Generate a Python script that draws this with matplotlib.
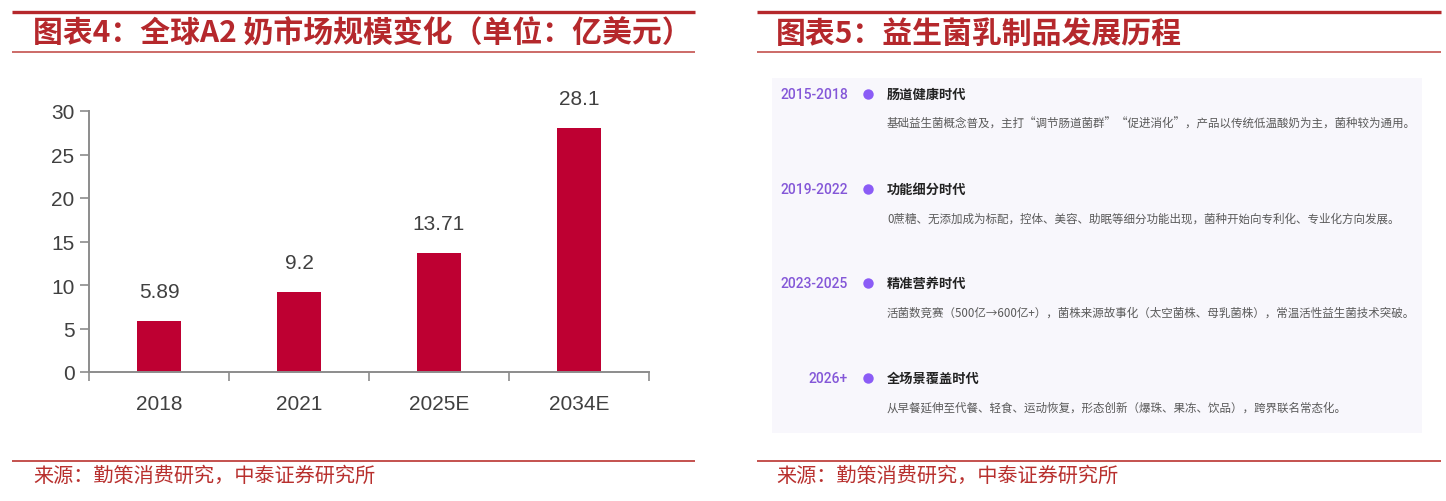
import matplotlib
matplotlib.use("Agg")
import matplotlib.pyplot as plt
from matplotlib.lines import Line2D
from matplotlib.patches import Rectangle

plt.rcParams['font.family'] = ['Noto Sans CJK SC', 'DejaVu Sans']

W, H = 1446, 502

# bar chart data
years = ["2018", "2021", "2025E", "2034E"]
market_size = [5.89, 9.2, 13.71, 28.1]
value_labels = ["5.89", "9.2", "13.71", "28.1"]
y_ticks = [0, 5, 10, 15, 20, 25, 30]

# timeline data
periods = ["2015-2018", "2019-2022", "2023-2025", "2026+"]
stages = ["肠道健康时代", "功能细分时代", "精准营养时代", "全场景覆盖时代"]
details = [
    "基础益生菌概念普及，主打“调节肠道菌群”“促进消化”，产品以传统低温酸奶为主，菌种较为通用。",
    "0蔗糖、无添加成为标配，控体、美容、助眠等细分功能出现，菌种开始向专利化、专业化方向发展。",
    "活菌数竞赛（500亿→600亿+），菌株来源故事化（太空菌株、母乳菌株），常温活性益生菌技术突破。",
    "从早餐延伸至代餐、轻食、运动恢复，形态创新（爆珠、果冻、饮品），跨界联名常态化。",
]

titles = ["图表4：全球A2 奶市场规模变化（单位：亿美元）", "图表5：益生菌乳制品发展历程"]
source = "来源：勤策消费研究，中泰证券研究所"

RED = "#B5282C"
LINE_RED = "#C4514E"
BAR = "#BE0032"
PURPLE = "#8457D8"


def fx(x):
    return x / W


def fy(y):
    return 1 - y / H


def hline(fig, x0, x1, y, lw, color):
    fig.add_artist(Line2D([fx(x0), fx(x1)], [fy(y), fy(y)], lw=lw, color=color,
                          transform=fig.transFigure, solid_capstyle="butt"))


fig = plt.figure(figsize=(W / 100, H / 100), dpi=100)

# panel frames: heading lines, titles, source
panels = [(12, 695, 33), (757, 1441, 776)]
for (x0, x1, tx), title in zip(panels, titles):
    hline(fig, x0, x1, 12.5, 2.4, RED)
    hline(fig, x0, x1, 52.5, 1.2, LINE_RED)
    hline(fig, x0, x1, 461.5, 1.4, LINE_RED)
    fig.text(fx(tx), fy(34), title, fontsize=21.5, fontweight="bold", color=RED,
             ha="left", va="center", fontstyle="italic")
    fig.text(fx(tx), fy(476), source, fontsize=14.5, color="#B8302E",
             ha="left", va="center")

# left: bar chart
ax = fig.add_axes([fx(89), fy(373), fx(649) - fx(89), fy(112) - fy(373)])
pos = list(range(len(years)))
ax.bar(pos, market_size, width=0.315, color=BAR, zorder=2)
for p, v, lab in zip(pos, market_size, value_labels):
    ax.annotate(lab, (p, v), xytext=(0, 21), textcoords="offset points",
                ha="center", va="center", fontsize=15, color="#404040",
                family=["Liberation Sans", "DejaVu Sans"])
ax.set_xlim(-0.5, len(years) - 0.5)
ax.set_ylim(0, 30)
ax.set_yticks(y_ticks)
ax.set_xticks(pos)
ax.set_xticklabels(years)
ax.set_xticks([p - 0.5 for p in pos] + [len(years) - 0.5], minor=True)
for s in ["top", "right"]:
    ax.spines[s].set_visible(False)
for s in ["left", "bottom"]:
    ax.spines[s].set_color("#8C8C8C")
    ax.spines[s].set_linewidth(1.4)
ax.tick_params(axis="y", length=6.5, width=1.2, color="#8C8C8C", pad=4,
               labelsize=15, labelcolor="#404040")
ax.tick_params(axis="x", which="major", length=0, pad=16, labelsize=15,
               labelcolor="#404040")
ax.tick_params(axis="x", which="minor", length=6.5, width=1.2, color="#8C8C8C")
for lab in ax.get_xticklabels() + ax.get_yticklabels():
    lab.set_family(["Liberation Sans", "DejaVu Sans"])

# right: timeline card
bx = fig.add_axes([fx(772), fy(434), fx(1422) - fx(772), fy(79) - fy(434)])
bx.set_xlim(0, 650)
bx.set_ylim(355, 0)
bx.axis("off")
bx.add_patch(Rectangle((0, 0), 650, 355, color="#F8F7FC", zorder=0))
row_gap = 94.7
for i, (per, stg, det) in enumerate(zip(periods, stages, details)):
    y = 16 + i * row_gap
    bx.text(76, y, per, ha="right", va="center", fontsize=10, color=PURPLE,
            family=["Roboto", "DejaVu Sans"], fontweight="medium")
    bx.plot([96], [y], "o", ms=7.5, color="#8B5CF6", mec="none")
    bx.text(115, y, stg, ha="left", va="center", fontsize=9.5,
            fontweight="bold", color="#222222")
    bx.text(115, y + 29, det, ha="left", va="center", fontsize=8.3,
            color="#5A5A5A")

fig.savefig("out.png", dpi=100)
